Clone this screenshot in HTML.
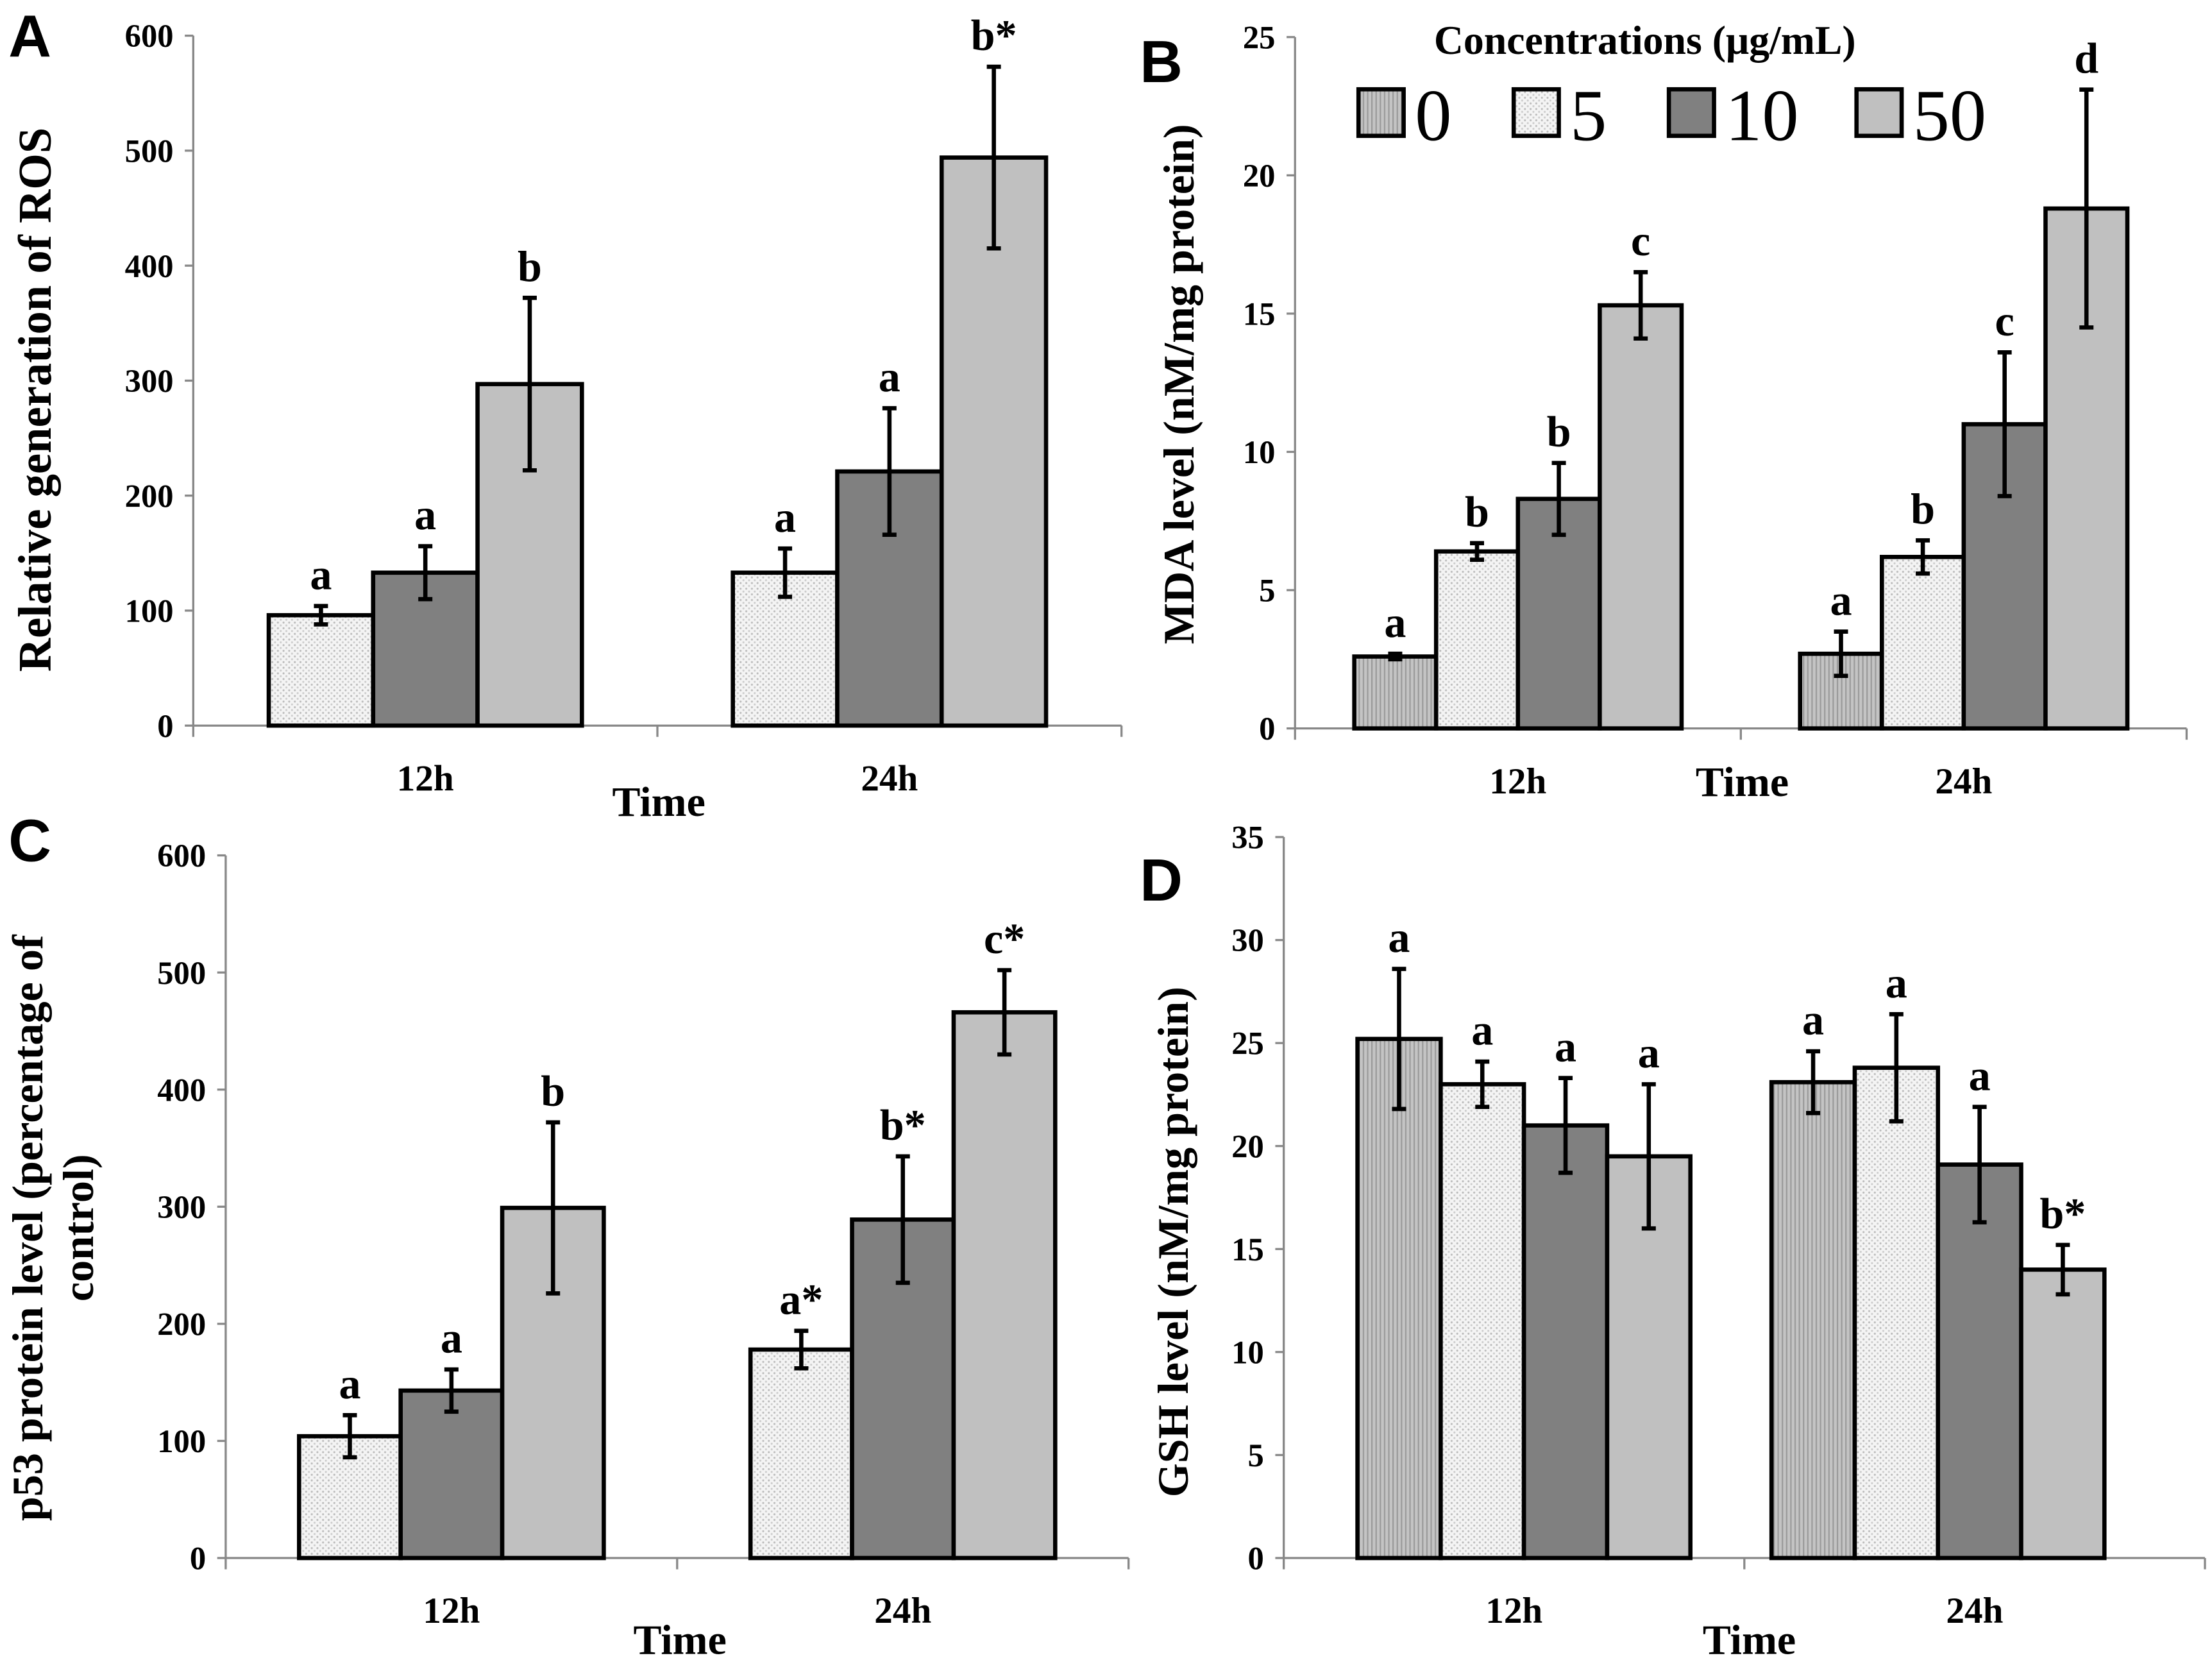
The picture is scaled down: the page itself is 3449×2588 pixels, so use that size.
<!DOCTYPE html>
<html><head><meta charset="utf-8"><style>html,body{margin:0;padding:0;background:#fff}svg{display:block}</style></head>
<body>
<svg id="fig" xmlns="http://www.w3.org/2000/svg" width="3449" height="2588" viewBox="0 0 1568 1176" font-family="'Liberation Serif', serif" font-weight="bold">
<defs>
<pattern id="dots" width="4" height="4" patternUnits="userSpaceOnUse"><rect width="4" height="4" fill="#f4f4f4"/><circle cx="1" cy="1" r="0.7" fill="#bbb"/><circle cx="3" cy="3" r="0.7" fill="#ccc"/></pattern>
<pattern id="vlines" width="3" height="3" patternUnits="userSpaceOnUse"><rect width="3" height="3" fill="#c4c4c4"/><rect width="1" height="3" fill="#9a9a9a"/></pattern>
</defs>
</svg>
<script>
// Panel A
const aCats = ["12h","24h"];
const aVals = [[96,133,297],[133,221,494]];
const aErrs = [[8,23,75],[21,55,79]];
const aLetters = [["a","a","b"],["a","a","b*"]];
const aTicks = [0,100,200,300,400,500,600];
// Panel B
const bCats = ["12h","24h"];
const bVals = [[2.6,6.4,8.3,15.3],[2.7,6.2,11.0,18.8]];
const bErrs = [[0.1,0.3,1.3,1.2],[0.8,0.6,2.6,4.3]];
const bLetters = [["a","b","b","c"],["a","b","c","d"]];
const bTicks = [0,5,10,15,20,25];
// Panel C
const cCats = ["12h","24h"];
const cVals = [[104,143,299],[178,289,466]];
const cErrs = [[18,18,73],[16,54,36]];
const cLetters = [["a","a","b"],["a*","b*","c*"]];
const cTicks = [0,100,200,300,400,500,600];
// Panel D
const dCats = ["12h","24h"];
const dVals = [[25.2,23.0,21.0,19.5],[23.1,23.8,19.1,14.0]];
const dErrs = [[3.4,1.1,2.3,3.5],[1.5,2.6,2.8,1.2]];
const dLetters = [["a","a","a","a"],["a","a","a","b*"]];
const dTicks = [0,5,10,15,20,25,30,35];
const legendLabels = ["0","5","10","50"];

const svg = document.getElementById('fig');
const NS = "http://www.w3.org/2000/svg";
function el(tag, attrs, parent){const e=document.createElementNS(NS,tag);for(const k in attrs)e.setAttribute(k,attrs[k]);(parent||svg).appendChild(e);return e;}
function txt(s, attrs, parent){const e=el('text',attrs,parent);e.textContent=s;return e;}

function panel(cfg){
  const g = el('g',{});
  
  
  const yMax = cfg.ticks[cfg.ticks.length-1];
  const y = v => cfg.y0 - (v/yMax)*(cfg.y0-cfg.yTop);
  const ax = el('line',{x1:cfg.x0,y1:cfg.yTop,x2:cfg.x0,y2:cfg.y0,stroke:'#888','stroke-width':1.5},g);
   
  const xa = el('line',{x1:cfg.x0,y1:cfg.y0,x2:cfg.x1,y2:cfg.y0,stroke:'#888','stroke-width':1.5},g);
   
  const mid=(cfg.x0+cfg.x1)/2;
  [cfg.x0,mid,cfg.x1].forEach(x=>el('line',{x1:x,y1:cfg.y0,x2:x,y2:cfg.y0+8,stroke:'#888','stroke-width':1.5},g));
  cfg.ticks.forEach(t=>{
    el('line',{x1:cfg.x0-6,y1:y(t),x2:cfg.x0,y2:y(t),stroke:'#888','stroke-width':1.5},g);
    const l=txt(String(t),{x:cfg.x0-14,y:y(t)+8,'text-anchor':'end','font-size':23},g);
     
  });
  const groupW = (cfg.x1-cfg.x0)/2;
  cfg.cats.forEach((c,ci)=>{
    const lx = cfg.x0 + groupW*(ci+0.5);
    const cx = lx + cfg.shift[ci];
    const n = cfg.vals[ci].length;
    const left = cx - n*cfg.bw/2;
    cfg.vals[ci].forEach((v,i)=>{
      const bx = left + i*cfg.bw;
      const r = el('rect',{x:bx,y:y(v),width:cfg.bw,height:cfg.y0-y(v),fill:cfg.fills[i],stroke:'#000','stroke-width':3},g);
      
      
      const e=cfg.errs[ci][i], ex=bx+cfg.bw/2;
      el('line',{x1:ex,y1:y(v+e),x2:ex,y2:y(v-e),stroke:'#000','stroke-width':3},g);
      el('line',{x1:ex-5,y1:y(v+e),x2:ex+5,y2:y(v+e),stroke:'#000','stroke-width':3},g);
      el('line',{x1:ex-5,y1:y(v-e),x2:ex+5,y2:y(v-e),stroke:'#000','stroke-width':3},g);
      const lt=txt(cfg.letters[ci][i],{x:ex,y:y(v+e)-12,'text-anchor':'middle','font-size':31},g);
       
    });
    const cl=txt(c,{x:lx,y:cfg.y0+46,'text-anchor':'middle','font-size':26},g);
     
  });
  const tl=txt('Time',{x:cfg.timeX,y:cfg.timeY,'text-anchor':'middle','font-size':30},g);
   
  cfg.ytitle.forEach((line,li)=>{
    const yt=txt(line,{x:0,y:0,'text-anchor':'middle','font-size':cfg.ytSize,transform:`translate(${cfg.ytX+li*36},${cfg.ytY}) rotate(-90)`},g);
     
  });
  const pl=txt(cfg.letter,{x:cfg.lx,y:cfg.ly,'font-size':42,'font-family':"'Liberation Sans', sans-serif"},g);
   
}
const F3=['url(#dots)','#808080','#c0c0c0'];
const F4=['url(#vlines)','url(#dots)','#808080','#c0c0c0'];
panel({name:'panel-a-ros',x0:137,x1:795,y0:514,yTop:25,ticks:aTicks,cats:aCats,vals:aVals,errs:aErrs,letters:aLetters,bw:74,shift:[0,0],fills:F3,timeX:467,timeY:578,ytitle:['Relative generation of ROS'],ytSize:33,ytX:36,ytY:283,letter:'A',lx:6,ly:40});
panel({name:'panel-b-mda',x0:918,x1:1550,y0:516,yTop:26,ticks:bTicks,cats:bCats,vals:bVals,errs:bErrs,letters:bLetters,bw:58,shift:[0,0],fills:F4,timeX:1235,timeY:564,ytitle:['MDA level (nM/mg protein)'],ytSize:31,ytX:846,ytY:272,letter:'B',lx:808,ly:58});
panel({name:'panel-c-p53',x0:160,x1:800,y0:1104,yTop:606,ticks:cTicks,cats:cCats,vals:cVals,errs:cErrs,letters:cLetters,bw:72,shift:[0,0],fills:F3,timeX:482,timeY:1172,ytitle:['p53 protein level (percentage of','control)'],ytSize:31,ytX:30,ytY:870,letter:'C',lx:6,ly:610});
panel({name:'panel-d-gsh',x0:910,x1:1563,y0:1104,yTop:593,ticks:dTicks,cats:dCats,vals:dVals,errs:dErrs,letters:dLetters,bw:59,shift:[7,-26],fills:F4,timeX:1240,timeY:1172,ytitle:['GSH level (nM/mg protein)'],ytSize:31,ytX:842,ytY:880,letter:'D',lx:808,ly:638});

const lg = el('g',{});


txt('Concentrations (μg/mL)',{x:1166,y:38,'text-anchor':'middle','font-size':29},lg);
const lgX=[963,1073,1183,1316];
legendLabels.forEach((s,i)=>{
  const r=el('rect',{x:lgX[i],y:63,width:32,height:33,fill:F4[i],stroke:'#000','stroke-width':3},lg);
  
  
  const t=txt(s,{x:lgX[i]+40,y:99,'font-size':52,'font-weight':'normal'},lg);
  
  
});
</script>
</body></html>
